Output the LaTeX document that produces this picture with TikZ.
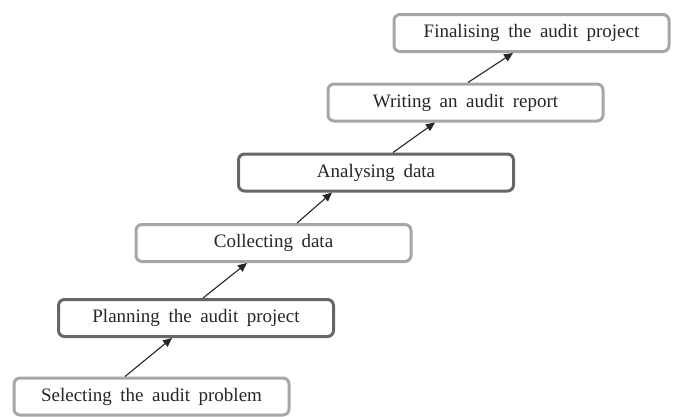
\documentclass[tikz,border=0pt]{standalone}
\usepackage{fontspec}
\setmainfont{Liberation Serif}[WordSpace=1.8]
\usetikzlibrary{arrows.meta}

\begin{document}
\begin{tikzpicture}[x=1pt, y=-1pt, every edge/.style={draw,solid,line width=1.1pt,black!85},
                    stage/.style={rectangle, rounded corners=6pt, line width=3pt, fill=white,
                      minimum width=275pt, minimum height=37pt, text height=13pt, text depth=4pt,
                      font=\fontsize{19}{22}\selectfont, text=black!85},
                    lightbox/.style={draw=black!35}, darkbox/.style={draw=black!60},
                    >={Triangle[length=9pt,width=8pt]}]
\useasboundingbox (0,0) rectangle (676,416);

\node[stage, lightbox] (sel)  at (151.5,396.5) {Selecting the audit problem};
\node[stage, darkbox]  (plan) at (196,318)     {Planning the audit project};
\node[stage, lightbox] (coll) at (273.5,243)   {Collecting data};
\node[stage, darkbox]  (ana)  at (376,172.5)   {Analysing data};
\node[stage, lightbox] (wri)  at (465.5,102.5) {Writing an audit report};
\node[stage, lightbox] (fin)  at (531.5,33)    {Finalising the audit project};

\path[->]
([xshift=-26.5pt]sel.north) edge ([xshift=-24pt]plan.south)
([xshift=7pt]plan.north)    edge ([xshift=-26.5pt]coll.south)
([xshift=23.5pt]coll.north) edge ([xshift=-44pt]ana.south)
([xshift=17pt]ana.north)    edge ([xshift=-30.5pt]wri.south)
([xshift=2.5pt]wri.north)   edge ([xshift=-18.5pt]fin.south);
\end{tikzpicture}
\end{document}
